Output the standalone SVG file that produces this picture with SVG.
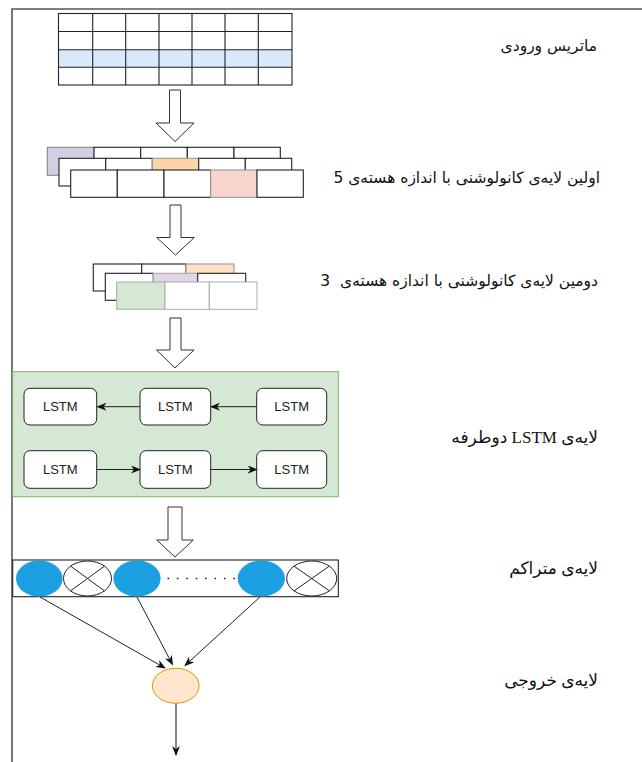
<svg xmlns="http://www.w3.org/2000/svg" width="642" height="762" viewBox="0 0 642 762">
  <style>
    .frame { fill: none; stroke: #555; stroke-width: 1.6; }
    .cell { stroke: #222; stroke-width: 1.1; }
    .hollow { fill: #fff; stroke: #333; stroke-width: 1; }
    .lstm rect { fill: #fff; stroke: #222; stroke-width: 1; }
    .lstm text { font-family: "Liberation Sans", Arial, sans-serif; font-size: 13px; fill: #222; text-anchor: middle; }
    .conn { fill: none; stroke: #222; stroke-width: 1; marker-end: url(#tip); }
    .label { font-family: "DejaVu Sans", "Noto Sans", sans-serif; font-size: 15.5px; fill: #111; direction: rtl; text-anchor: start; }
    .label2 { font-family: "Liberation Serif", "DejaVu Sans", serif; font-size: 17px; fill: #111; direction: rtl; text-anchor: start; }
  </style>
  <defs>
    <marker id="tip" viewBox="0 0 10 8" refX="9" refY="4" markerWidth="10" markerHeight="8" orient="auto" markerUnits="userSpaceOnUse">
      <path d="M0,0 L10,4 L0,8 L3,4 z" fill="#111"/>
    </marker>
  </defs>

  <rect width="642" height="762" fill="#fff"/>

  <!-- page frame: top and left rules -->
  <path class="frame" d="M12,762 L12,9 L642,9"/>

  <!-- input matrix: 4 rows x 7 columns, third row highlighted -->
  <g id="input-matrix">
    <rect x="58.5" y="49.7" width="233.5" height="17.5" fill="#dae8fc"/>
    <g class="cell" fill="none">
      <rect x="58.5" y="13.5" width="233.5" height="71.5"/>
      <path d="M58.5,31.5 H292 M58.5,49.7 H292 M58.5,67.2 H292"/>
      <path d="M92.7,13.5 V85 M125.7,13.5 V85 M159,13.5 V85 M192,13.5 V85 M225,13.5 V85 M258.3,13.5 V85"/>
    </g>
  </g>

  <!-- first convolution layer (kernel 5): three stacked feature rows -->
  <g id="conv1">
    <g class="cell">
      <rect x="47.3" y="147.3" width="46.7" height="28" fill="#d0cfe3" stroke="#888"/>
      <rect x="94" y="147.3" width="46.7" height="28" fill="#fff"/>
      <rect x="140.7" y="147.3" width="46.6" height="28" fill="#fff"/>
      <rect x="187.3" y="147.3" width="46.7" height="28" fill="#fff"/>
      <rect x="234" y="147.3" width="46.3" height="28" fill="#fff"/>
    </g>
    <g class="cell">
      <rect x="59" y="158.3" width="46.7" height="27.7" fill="#fff"/>
      <rect x="105.7" y="158.3" width="46.6" height="27.7" fill="#fff"/>
      <rect x="152.3" y="158.3" width="46.4" height="27.7" fill="#fbd5a3" stroke="#999"/>
      <rect x="198.7" y="158.3" width="46.6" height="27.7" fill="#fff"/>
      <rect x="245.3" y="158.3" width="46.4" height="27.7" fill="#fff"/>
    </g>
    <g class="cell">
      <rect x="70.7" y="170" width="46.6" height="27.3" fill="#fff"/>
      <rect x="117.3" y="170" width="46.7" height="27.3" fill="#fff"/>
      <rect x="164" y="170" width="46.7" height="27.3" fill="#fff"/>
      <rect x="210.7" y="170" width="46.3" height="27.3" fill="#f8d5ce" stroke="#999"/>
      <rect x="257" y="170" width="46.3" height="27.3" fill="#fff"/>
    </g>
  </g>

  <!-- second convolution layer (kernel 3) -->
  <g id="conv2">
    <g class="cell" stroke-width="1.4">
      <rect x="93.3" y="264" width="48.4" height="27" fill="#fff"/>
      <rect x="141.7" y="264" width="44.3" height="27" fill="#fff"/>
      <rect x="186" y="264" width="48" height="27" fill="#fde2c4" stroke="#999"/>
    </g>
    <g class="cell" stroke="#555">
      <rect x="105.3" y="273.3" width="48" height="27" fill="#fff"/>
      <rect x="153.3" y="273.3" width="44.4" height="27" fill="#e1d5e7" stroke="#aaa"/>
      <rect x="197.7" y="273.3" width="48" height="27" fill="#fff"/>
    </g>
    <g stroke="#aaa" stroke-width="1">
      <rect x="116.7" y="282" width="48.3" height="27.3" fill="#d5e8d4"/>
      <rect x="165" y="282" width="44.3" height="27.3" fill="#fff"/>
      <rect x="209.3" y="282" width="47.7" height="27.3" fill="#fff"/>
    </g>
  </g>

  <!-- hollow flow arrows between stages -->
  <g id="flow-arrows">
    <polygon class="hollow" points="169.5,90 180.5,90 180.5,123 194,123 175,141.5 156,123 169.5,123"/>
    <polygon class="hollow" points="170,205 181,205 181,237.5 194.3,237.5 175.5,255 156.7,237.5 170,237.5"/>
    <polygon class="hollow" points="170,318 181,318 181,350 194,350 175,368 156.5,350 170,350"/>
    <polygon class="hollow" points="168,507 182,507 182,540 193.3,540 175,557 156.7,540 168,540"/>
  </g>

  <!-- bidirectional LSTM layer -->
  <g id="bilstm">
    <rect x="12.7" y="371.7" width="325.6" height="125" fill="#d5e8d4" stroke="#82b366" stroke-width="1"/>
    <g id="lstm-b1" class="lstm"><rect x="24" y="388.3" width="72.7" height="36.7" rx="6"/><text x="60.3" y="411.3">LSTM</text></g>
    <g id="lstm-b2" class="lstm"><rect x="140" y="388.3" width="70.7" height="36.7" rx="6"/><text x="175.3" y="411.3">LSTM</text></g>
    <g id="lstm-b3" class="lstm"><rect x="256.7" y="388.3" width="70" height="36.7" rx="6"/><text x="291.7" y="411.3">LSTM</text></g>
    <g id="lstm-f1" class="lstm"><rect x="24" y="450.7" width="72.7" height="37.6" rx="6"/><text x="60.3" y="474">LSTM</text></g>
    <g id="lstm-f2" class="lstm"><rect x="140" y="450.7" width="70.7" height="37.6" rx="6"/><text x="175.3" y="474">LSTM</text></g>
    <g id="lstm-f3" class="lstm"><rect x="256.7" y="450.7" width="70" height="37.6" rx="6"/><text x="291.7" y="474">LSTM</text></g>
  </g>

  <!-- dense layer: active units and dropped-out units -->
  <g id="dense">
    <rect x="12.7" y="560" width="325.6" height="36.7" fill="#fff" stroke="#222" stroke-width="1.1"/>
    <ellipse cx="39.3" cy="578.5" rx="23.3" ry="18" fill="#1ba1e2"/>
    <g fill="#fff" stroke="#222" stroke-width="1">
      <ellipse cx="87.5" cy="578.5" rx="24" ry="17.5"/>
      <path d="M70.5,566.1 L104.5,590.9 M104.5,566.1 L70.5,590.9"/>
    </g>
    <ellipse cx="137" cy="578.5" rx="23.6" ry="18" fill="#1ba1e2"/>
    <line x1="167.5" y1="578.5" x2="235" y2="578.5" stroke="#222" stroke-width="1.3" stroke-dasharray="1.6,7.8"/>
    <ellipse cx="261.3" cy="578.5" rx="23.6" ry="18" fill="#1ba1e2"/>
    <g fill="#fff" stroke="#222" stroke-width="1">
      <ellipse cx="311.7" cy="578.5" rx="25" ry="17.5"/>
      <path d="M294,566.1 L329.4,590.9 M329.4,566.1 L294,590.9"/>
    </g>
  </g>

  <!-- output unit -->
  <g id="output">
    <ellipse cx="175.7" cy="685.8" rx="23.4" ry="17.5" fill="#ffe6cc" stroke="#d79b00" stroke-width="1"/>
  </g>

  <!-- connectors -->
  <g id="connectors">
    <line class="conn" x1="140" y1="406.7" x2="97.5" y2="406.7"/>
    <line class="conn" x1="256.7" y1="406.7" x2="211" y2="406.7"/>
    <line class="conn" x1="96.7" y1="469.5" x2="140" y2="469.5"/>
    <line class="conn" x1="210.7" y1="469.5" x2="256.7" y2="469.5"/>
    <line class="conn" x1="40" y1="597" x2="165" y2="668"/>
    <line class="conn" x1="137" y1="597" x2="172.5" y2="664.5"/>
    <line class="conn" x1="260" y1="597" x2="185" y2="665.5"/>
    <line x1="176" y1="703.5" x2="176" y2="755" stroke="#666" stroke-width="1.6" marker-end="url(#tip)"/>
  </g>

  <!-- stage labels -->
  <g id="labels">
    <text class="label" x="597" y="51" font-size="16.5">ماتریس ورودی</text>
    <text class="label" x="600" y="183">اولین لایه‌ی کانولوشنی با اندازه هسته‌ی 5</text>
    <text class="label" x="598" y="286" xml:space="preserve">دومین لایه‌ی کانولوشنی با اندازه هسته‌ی  3</text>
    <text class="label2" x="598" y="443">لایه‌ی LSTM دوطرفه</text>
    <text class="label2" x="598" y="574" font-size="16">لایه‌ی متراکم</text>
    <text class="label2" x="598" y="686" font-size="16">لایه‌ی خروجی</text>
  </g>
</svg>
